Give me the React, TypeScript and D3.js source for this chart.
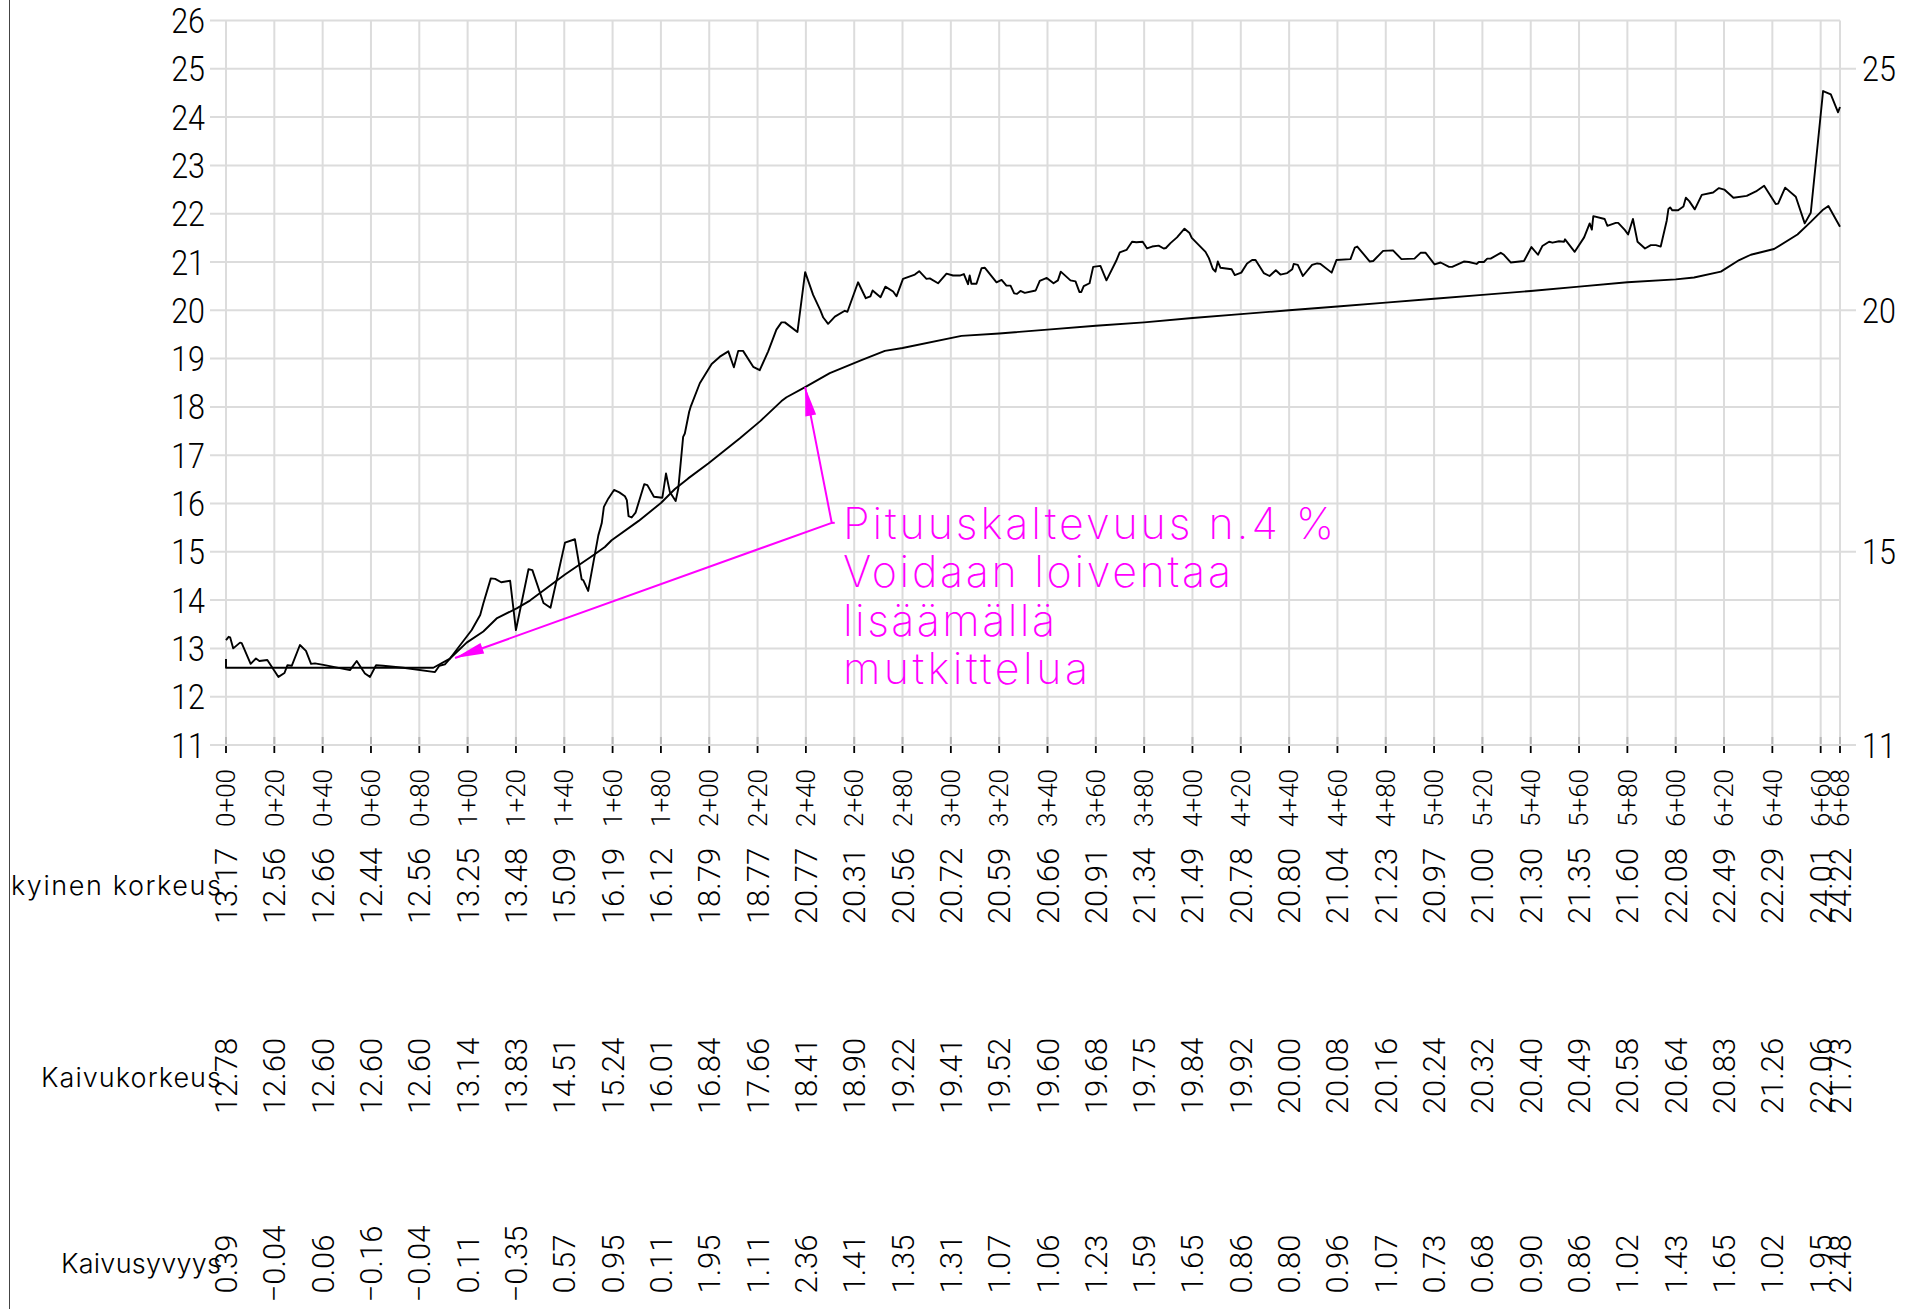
import React from "react";
import * as d3 from "d3";

const leftTicks = [26, 25, 24, 23, 22, 21, 20, 19, 18, 17, 16, 15, 14, 13, 12, 11];
const rightTicks = [25, 20, 15, 11];
const stationMetres = [0, 20, 40, 60, 80, 100, 120, 140, 160, 180, 200, 220, 240, 260, 280, 300, 320, 340, 360, 380, 400, 420, 440, 460, 480, 500, 520, 540, 560, 580, 600, 620, 640, 660, 668];
const stationLabels = ["0+00", "0+20", "0+40", "0+60", "0+80", "1+00", "1+20", "1+40", "1+60", "1+80", "2+00", "2+20", "2+40", "2+60", "2+80", "3+00", "3+20", "3+40", "3+60", "3+80", "4+00", "4+20", "4+40", "4+60", "4+80", "5+00", "5+20", "5+40", "5+60", "5+80", "6+00", "6+20", "6+40", "6+60", "6+68"];
const nykyinenLabels = ["13.17", "12.56", "12.66", "12.44", "12.56", "13.25", "13.48", "15.09", "16.19", "16.12", "18.79", "18.77", "20.77", "20.31", "20.56", "20.72", "20.59", "20.66", "20.91", "21.34", "21.49", "20.78", "20.80", "21.04", "21.23", "20.97", "21.00", "21.30", "21.35", "21.60", "22.08", "22.49", "22.29", "24.01", "24.22"];
const kaivuLabels = ["12.78", "12.60", "12.60", "12.60", "12.60", "13.14", "13.83", "14.51", "15.24", "16.01", "16.84", "17.66", "18.41", "18.90", "19.22", "19.41", "19.52", "19.60", "19.68", "19.75", "19.84", "19.92", "20.00", "20.08", "20.16", "20.24", "20.32", "20.40", "20.49", "20.58", "20.64", "20.83", "21.26", "22.06", "21.73"];
const syvyysLabels = ["0.39", "\u22120.04", "0.06", "\u22120.16", "\u22120.04", "0.11", "\u22120.35", "0.57", "0.95", "0.11", "1.95", "1.11", "2.36", "1.41", "1.35", "1.31", "1.07", "1.06", "1.23", "1.59", "1.65", "0.86", "0.80", "0.96", "1.07", "0.73", "0.68", "0.90", "0.86", "1.02", "1.43", "1.65", "1.02", "1.95", "2.48"];

const groundProfile: [number, number][] = [
  [0, 13.17], [1.1, 13.24], [1.7, 13.23], [3, 13], [5.8, 13.12], [6.5, 13.11], [10.2, 12.68], [12.4, 12.79], [13.8, 12.74], [17.1, 12.76], [21.7, 12.41], [24.2, 12.49], [25.4, 12.65], [27.2, 12.64], [30.6, 13.07], [33.1, 12.95], [35.2, 12.68], [36.8, 12.69], [40.3, 12.66], [51.3, 12.55], [54.1, 12.74], [57.5, 12.48], [59.6, 12.41], [62.1, 12.65], [65, 12.64], [73.4, 12.6], [86.5, 12.51], [88.3, 12.64], [90.6, 12.67], [92.7, 12.79], [101.7, 13.38], [105.2, 13.69], [106.5, 13.93], [109.6, 14.45], [111.4, 14.44], [113.9, 14.37], [117.6, 14.4], [120, 13.38], [125.2, 14.64], [126.8, 14.62], [131.4, 13.94], [134.3, 13.84],
  [140.3, 15.19], [144.4, 15.26], [147.2, 14.43], [147.9, 14.41], [149.9, 14.19], [154.1, 15.34], [155.5, 15.59], [156.4, 15.93], [158.2, 16.1], [160.6, 16.28], [162.8, 16.23], [165.1, 16.15], [165.9, 16.07], [166.6, 15.74], [167.9, 15.71], [169.5, 15.81], [173.1, 16.4], [174.4, 16.38], [177.1, 16.14], [180.6, 16.12], [182.1, 16.62], [183.7, 16.24], [186.1, 16.05], [187.2, 16.31],
  [189.2, 17.38], [189.9, 17.45], [191.7, 17.9], [192.3, 18], [196.1, 18.49], [201, 18.89], [204.4, 19.04], [207.9, 19.15], [210.2, 18.82], [212, 19.16], [214, 19.16], [218.2, 18.83], [220.9, 18.76], [224.4, 19.15], [227.8, 19.6], [229.9, 19.75], [231.3, 19.75], [236.5, 19.55], [239.7, 20.79], [243, 20.32], [246, 20], [247.2, 19.85], [249.2, 19.72], [252, 19.87], [256.1, 19.99], [257.2, 19.97], [261.6, 20.58], [264.8, 20.25], [266.7, 20.29], [267.6, 20.41], [270.9, 20.27], [272.9, 20.49], [276.1, 20.39], [277.5, 20.29], [280.2, 20.65], [285.1, 20.74], [286.9, 20.81], [289.9, 20.65], [291.3, 20.66], [294.7, 20.56], [298.2, 20.76], [300.9, 20.72], [303.7, 20.72], [305.4, 20.75], [307.1, 20.54], [307.8, 20.72], [308.5, 20.55], [310.6, 20.55], [312.7, 20.87], [314.1, 20.88], [318.9, 20.58], [321, 20.63], [323, 20.51], [324.7, 20.51], [326.2, 20.35], [327.4, 20.34], [328.8, 20.4], [330.6, 20.36], [335.1, 20.41], [336.8, 20.61], [339.7, 20.67], [342.5, 20.56], [344.3, 20.62], [345.5, 20.8], [349.5, 20.62], [351.6, 20.6], [353.2, 20.38], [354, 20.38], [355, 20.5], [357.4, 20.56], [358.9, 20.9], [361.9, 20.92], [364.4, 20.62], [368.4, 21.02], [369.9, 21.2], [372.7, 21.25], [375, 21.42], [376.8, 21.41], [379.4, 21.42], [381.2, 21.28], [383.3, 21.32], [386, 21.34], [388.1, 21.28], [389, 21.29], [390.9, 21.39], [393.6, 21.51], [396.7, 21.69], [398.8, 21.6], [399.7, 21.5],
  [405.4, 21.21], [406.8, 21.08], [408.4, 20.86], [409.5, 20.8], [410.5, 21.01], [411.6, 20.88], [416.2, 20.85], [417.5, 20.73], [420.2, 20.78], [422.6, 20.97], [424.7, 21.04], [426.1, 21.04], [429.5, 20.77], [431.9, 20.71], [434.5, 20.83], [436.4, 20.74], [439.2, 20.77], [441.3, 20.85], [441.9, 20.96], [443.6, 20.94], [445.7, 20.71], [449.5, 20.94], [451.6, 20.97], [453, 20.96], [457.6, 20.78], [459.6, 21.04], [465.4, 21.06], [467.2, 21.3], [468.2, 21.32], [473.4, 21.01], [474.8, 21.02], [478.9, 21.23], [483, 21.24], [486.5, 21.06], [491.9, 21.07], [494.4, 21.19], [496.5, 21.19], [500.2, 20.95], [502.7, 20.99], [506.2, 20.9], [507.5, 20.9], [512.3, 21.01], [514.4, 21], [517.6, 20.96], [518.5, 21], [520.6, 21], [522, 21.07], [523.4, 21.07], [527.6, 21.19], [528.9, 21.15], [531.7, 20.99], [537.2, 21.02], [540.3, 21.31], [543, 21.15], [544.8, 21.33], [547.6, 21.42], [549, 21.4], [551.7, 21.43], [553.8, 21.42], [554.2, 21.47], [558.2, 21.21], [562.1, 21.51], [564.4, 21.8], [565.3, 21.67], [565.9, 21.95], [570.6, 21.89], [571.7, 21.75], [575.2, 21.81], [576.2, 21.81], [579, 21.66], [580.3, 21.57], [582.3, 21.89], [584.2, 21.42], [587.3, 21.28], [589.7, 21.35], [591.8, 21.35], [593.8, 21.32], [596.3, 21.86], [597, 22.1], [597.7, 22.13], [598.6, 22.07], [601, 22.07], [603.2, 22.15], [604.2, 22.33], [605.6, 22.26], [607.9, 22.09], [610.8, 22.39], [615.5, 22.44], [617.9, 22.53], [620.1, 22.5], [623.9, 22.33], [629.4, 22.37], [633.2, 22.46], [636.6, 22.58], [641.4, 22.2], [642.4, 22.21], [645.3, 22.54], [649.7, 22.35], [653.4, 21.8], [655.9, 22.02], [661, 24.54], [664.2, 24.47], [667.2, 24.1], [668, 24.21],
];

const designProfile: [number, number][] = [
  [0, 12.78], [0, 12.6], [20, 12.6], [40, 12.6], [60, 12.6], [80, 12.6], [85.8, 12.6], [92.7, 12.79], [99.6, 13.12], [106.5, 13.35], [112, 13.62], [120.3, 13.83], [125.8, 13.99], [140.3, 14.53], [152, 14.93], [156.8, 15.1], [159.6, 15.24], [170.8, 15.64], [180, 16.01], [185.8, 16.3], [191.3, 16.52], [199.6, 16.83], [212.7, 17.35], [221, 17.7], [229.9, 18.12], [232, 18.2], [239.7, 18.41], [249.9, 18.7], [263, 18.97], [272.7, 19.16], [280, 19.22], [304.4, 19.47], [320, 19.52], [340, 19.6], [360, 19.68], [380, 19.75], [400, 19.84], [420, 19.92], [440, 20], [460, 20.08], [480, 20.16], [500, 20.24], [520, 20.32], [540, 20.4], [560, 20.49], [580, 20.58], [600, 20.64], [607.6, 20.68], [618.7, 20.8], [626.3, 21.04], [631.1, 21.15], [640.7, 21.27], [650.4, 21.57], [655.9, 21.83], [660.7, 22.07], [663.2, 22.16], [668, 21.73],
];

const noteElbow: [number, number] = [250.7, 15.6];
const noteTips: [number, number][] = [[239.7, 18.41], [94.8, 12.8]];
const noteLines = [
  { text: "Pituuskaltevuus n.4 %", width: 491 },
  { text: "Voidaan loiventaa", width: 388 },
  { text: "lis\u00e4\u00e4m\u00e4ll\u00e4", width: 212 },
  { text: "mutkittelua", width: 245 },
];
const rowTitles = [
  { text: "kyinen korkeus", y: 885, x: 11, width: 210 },
  { text: "Kaivukorkeus", y: 1077, x: 41, width: 180 },
  { text: "Kaivusyvyys", y: 1263, x: 61, width: 160 },
];

const x = d3.scaleLinear().domain([0, 668]).range([226, 1840]);
const y = d3.scaleLinear().domain([26, 11]).range([20.5, 745]);
const path = d3.line<[number, number]>().x((d) => x(d[0])).y((d) => y(d[1]));

function arrowHead(from: [number, number], tip: [number, number]) {
  const tx = x(tip[0]), ty = y(tip[1]);
  const dx = x(from[0]) - tx, dy = y(from[1]) - ty;
  const len = Math.hypot(dx, dy);
  const ux = dx / len, uy = dy / len;
  const L = 29, W = 5.5;
  return `${tx},${ty} ${tx + ux * L - uy * W},${ty + uy * L + ux * W} ${tx + ux * L + uy * W},${ty + uy * L - ux * W}`;
}

const GRID = "#dcdcdc";
const MAGENTA = "#ff00ff";
const NUM = "Roboto, 'Liberation Sans', sans-serif";
const CAD = "Inter, 'Noto Sans', sans-serif";

function Row({ labels, cy, size }: { labels: string[]; cy: number; size: number }) {
  return (
    <g fontFamily={NUM} fontSize={size} fontWeight={300} fill="#000" textAnchor="middle">
      {labels.map((t, i) => (
        <text key={i} transform={`translate(${x(stationMetres[i]) + size * 0.355},${cy}) rotate(-90)`}>{t}</text>
      ))}
    </g>
  );
}

export default function App() {
  return (
    <svg width={1910} height={1309} style={{ position: "absolute", left: 0, top: 0, display: "block", background: "#fff" }}>
      <line x1={9.5} x2={9.5} y1={0} y2={1309} stroke="#444" strokeWidth={1} />
      <g stroke={GRID} strokeWidth={2}>
        {leftTicks.map((v) => (
          <line key={v} x1={210} x2={rightTicks.includes(v) ? 1856 : 1840} y1={y(v)} y2={y(v)} />
        ))}
        {stationMetres.map((s) => (
          <line key={s} x1={x(s)} x2={x(s)} y1={y(26)} y2={y(11)} />
        ))}
      </g>
      <g stroke="#b8b8b8" strokeWidth={2}>
        {stationMetres.map((s) => (
          <line key={s} x1={x(s)} x2={x(s)} y1={737} y2={744} />
        ))}
      </g>
      <g stroke="#000" strokeWidth={1.8}>
        {stationMetres.map((s) => (
          <line key={s} x1={x(s)} x2={x(s)} y1={746} y2={753} />
        ))}
      </g>
      <g fontFamily={NUM} fontSize={35} fontWeight={300} fill="#000">
        {leftTicks.map((v) => (
          <text key={v} transform={`translate(205,${y(v) + 12.5}) scale(0.87,1)`} textAnchor="end">{v}</text>
        ))}
        {rightTicks.map((v) => (
          <text key={v} transform={`translate(1862,${y(v) + 12.5}) scale(0.87,1)`}>{v}</text>
        ))}
      </g>
      <path d={path(designProfile) ?? ""} fill="none" stroke="#000" strokeWidth={1.9} strokeLinejoin="round" />
      <path d={path(groundProfile) ?? ""} fill="none" stroke="#000" strokeWidth={1.9} strokeLinejoin="round" />
      <g>
        <polyline
          points={[noteTips[1], noteElbow, noteTips[0]].map((p) => `${x(p[0])},${y(p[1])}`).join(" ")}
          fill="none"
          stroke={MAGENTA}
          strokeWidth={2}
        />
        <line x1={x(noteElbow[0])} x2={x(noteElbow[0]) + 3} y1={y(noteElbow[1])} y2={y(noteElbow[1])} stroke={MAGENTA} strokeWidth={2} />
        {noteTips.map((t, i) => (
          <polygon key={i} points={arrowHead(noteElbow, t)} fill={MAGENTA} />
        ))}
      </g>
      <g fontFamily={CAD} fontSize={43} fontWeight={200} fill={MAGENTA}>
        {noteLines.map((l, i) => (
          <text key={i} x={843} y={539 + i * 48.3} textLength={l.width} lengthAdjust="spacing">{l.text}</text>
        ))}
      </g>
      <Row labels={stationLabels} cy={798} size={26} />
      <Row labels={nykyinenLabels} cy={886} size={31} />
      <Row labels={kaivuLabels} cy={1076} size={31} />
      <Row labels={syvyysLabels} cy={1264} size={31} />
      <g fontFamily={CAD} fontSize={27} fontWeight={300} fill="#000">
        {rowTitles.map((r) => (
          <text key={r.text} x={r.x} y={r.y + 10} textLength={r.width} lengthAdjust="spacing">{r.text}</text>
        ))}
      </g>
    </svg>
  );
}
